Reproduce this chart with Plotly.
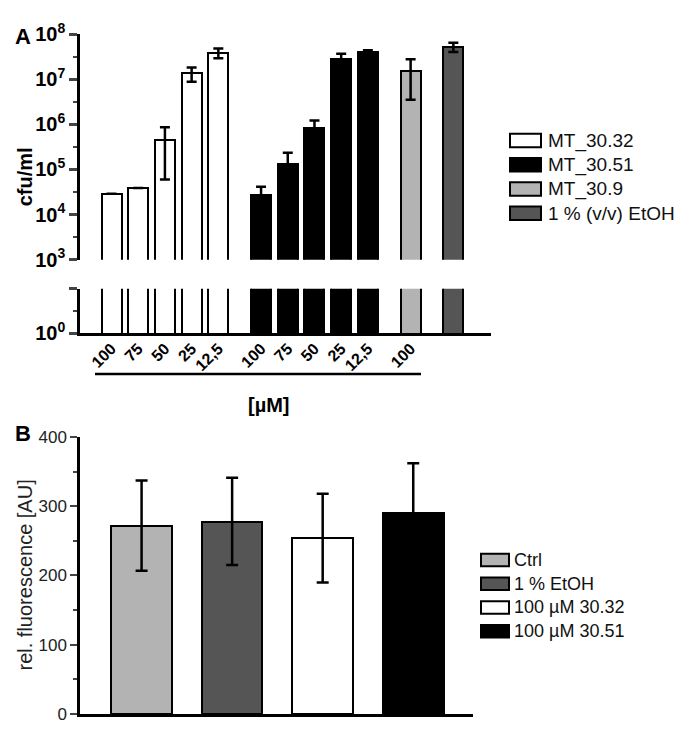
import plotly.graph_objects as go

W, H = 686, 729
L, R, T, B = 72, 203, 15, 12

# Panel A: cfu/ml bei verschiedenen Konzentrationen
conc_labels = ["100", "75", "50", "25", "12,5"]
mt3032_cfu = [2.9e4, 3.9e4, 4.6e5, 1.34e7, 3.85e7]
mt3032_err = [0, 0, 4.0e5, 4.7e6, 9.5e6]
mt3051_cfu = [2.65e4, 1.35e5, 8.4e5, 2.8e7, 4.05e7]
mt3051_err = [1.5e4, 1.0e5, 3.7e5, 8.5e6, 3.3e6]
mt309_cfu = [1.55e7]
mt309_err = [1.2e7]
etoh_cfu = [5.2e7]
etoh_err = [1.2e7]

series_a = [
    ("MT_30.32", mt3032_cfu, mt3032_err, conc_labels, "#ffffff"),
    ("MT_30.51", mt3051_cfu, mt3051_err, conc_labels, "#000000"),
    ("MT_30.9", mt309_cfu, mt309_err, ["100"], "#b3b3b3"),
    ("1 % (v/v) EtOH", etoh_cfu, etoh_err, [""], "#555555"),
]

# Panel B: relative Fluoreszenz
groups_b = ["Ctrl", "1 % EtOH", "100 µM 30.32", "100 µM 30.51"]
fluor = [272, 278, 254, 290]
fluor_err = [65, 63, 64, 72]
colors_b = ["#b3b3b3", "#555555", "#ffffff", "#000000"]


def px(x):
    return (x - L) / (W - L - R)


def py(y):
    return (H - B - y) / (H - T - B)


FONT = "Liberation Sans"
fig = go.Figure()

# Balken Panel A (oberer und unterer Teil der unterbrochenen Achse)
tickvals, ticktext = [], []
i = 0
for g, (name, vals, errs, labels, col) in enumerate(series_a):
    xs = [i + k + 0.6 * g for k in range(len(vals))]
    i += len(vals)
    for xv, lab in zip(xs, labels):
        if lab:
            tickvals.append(xv)
            ticktext.append(lab)
    fig.add_trace(go.Bar(
        x=xs, y=vals, xaxis="x", yaxis="y2", width=0.75, name=name,
        marker=dict(color=col, line=dict(color="#000000", width=2)),
        error_y=dict(type="data", array=errs, visible=True, color="#000000",
                     thickness=2.5, width=5),
        showlegend=False,
    ))
    fig.add_trace(go.Bar(
        x=xs, y=vals, xaxis="x", yaxis="y", width=0.75, name=name,
        marker=dict(color=col, line=dict(color="#000000", width=2)),
        showlegend=False,
    ))

# Balken Panel B
fig.add_trace(go.Bar(
    x=list(range(len(groups_b))), y=fluor, xaxis="x3", yaxis="y3", width=0.67,
    marker=dict(color=colors_b, line=dict(color="#000000", width=2)),
    error_y=dict(type="data", array=fluor_err, visible=True, color="#000000",
                 thickness=2.5, width=6),
    showlegend=False,
))

up_vals = [10 ** k for k in range(3, 9)]
up_text = ["10<sup>%d</sup>" % k for k in range(3, 9)]

fig.update_layout(
    width=W, height=H,
    margin=dict(l=L, r=R, t=T, b=B),
    paper_bgcolor="white", plot_bgcolor="white",
    font=dict(family=FONT, color="#000000"),
    bargap=0,
    xaxis=dict(
        domain=[0, 1], anchor="y", range=[-1.18, 14.21],
        showline=True, linecolor="#000000", linewidth=2.5,
        tickmode="array", tickvals=tickvals, ticktext=ticktext,
        tickangle=-45, ticks="", showgrid=False, zeroline=False,
        ticklabelstandoff=-3,
        tickfont=dict(size=16, weight="bold"),
    ),
    yaxis=dict(
        domain=[py(324), py(278)], anchor="x", type="log", range=[0, 1],
        showline=True, linecolor="#000000", linewidth=2.5,
        tickmode="array", tickvals=[1, 10], ticktext=["10<sup>0</sup>", ""],
        ticks="outside", ticklen=8, tickwidth=2.5, showgrid=False, zeroline=False,
        tickfont=dict(size=20, weight="bold"),
        minor=dict(tickmode="array", tickvals=[10 ** 0.5], ticks="outside",
                   ticklen=4, tickwidth=2, showgrid=False),
    ),
    yaxis2=dict(
        domain=[py(248), py(15)], anchor="x", type="log", range=[3, 8],
        showline=True, linecolor="#000000", linewidth=2.5,
        tickmode="array", tickvals=up_vals, ticktext=up_text,
        ticks="outside", ticklen=8, tickwidth=2.5, showgrid=False, zeroline=False,
        tickfont=dict(size=20, weight="bold"),
        minor=dict(tickmode="array", tickvals=[10 ** (k + 0.5) for k in range(3, 8)],
                   ticks="outside", ticklen=4, tickwidth=2, showgrid=False),
    ),
    xaxis3=dict(
        domain=[0, px(465)], anchor="y3", range=[-0.68, 3.66],
        showline=True, linecolor="#000000", linewidth=2.5,
        showticklabels=False, ticks="", showgrid=False, zeroline=False,
    ),
    yaxis3=dict(
        domain=[0, py(431)], anchor="x3", range=[0, 400],
        showline=True, linecolor="#000000", linewidth=2.5,
        tickmode="linear", tick0=0, dtick=100,
        ticks="outside", ticklen=7, tickwidth=2, showgrid=False, zeroline=False,
        tickfont=dict(size=17, color="#222222"),
        minor=dict(tickmode="linear", tick0=50, dtick=100, ticks="outside",
                   ticklen=4, tickwidth=1.5, showgrid=False),
    ),
)

ann = [
    dict(text="<b>A</b>", x=px(15), y=py(18), font=dict(size=22)),
    dict(text="<b>B</b>", x=px(15), y=py(427), font=dict(size=22)),
    dict(text="<b>cfu/ml</b>", x=px(17), y=py(163), textangle=-90, font=dict(size=20)),
    dict(text="<b>[µM]</b>", x=px(261), y=py(398), font=dict(size=20)),
    dict(text="rel. fluorescence [AU]", x=px(17), y=py(574), textangle=-90,
         font=dict(size=20, color="#222222")),
]
for a in ann:
    fig.add_annotation(xref="paper", yref="paper", showarrow=False,
                       xanchor="center", yanchor="middle", **a)

# Linie unter den Konzentrationen
fig.add_shape(type="line", xref="paper", yref="paper",
              x0=px(87), x1=px(413), y0=py(366), y1=py(366),
              line=dict(color="#000000", width=2.5))

# Legenden
def legend(rows, x_sw, sw_w, sw_h, x_txt, size):
    for y, (name, col) in rows:
        fig.add_shape(type="rect", xref="paper", yref="paper",
                      x0=px(x_sw), x1=px(x_sw + sw_w),
                      y0=py(y + sw_h / 2), y1=py(y - sw_h / 2),
                      fillcolor=col, line=dict(color="#000000", width=2))
        fig.add_annotation(xref="paper", yref="paper", showarrow=False,
                           x=px(x_txt), y=py(y), xanchor="left", yanchor="middle",
                           text=name, font=dict(size=size, color="#111111"))


legend([(125 + 25 * k, (s[0], s[4])) for k, s in enumerate(series_a)],
       502, 31, 14, 538, 19)
legend([(558 + 24.5 * k, (g, c)) for k, (g, c) in enumerate(zip(groups_b, colors_b))],
       473, 28, 13, 504, 18)

fig.write_html("out.html")
